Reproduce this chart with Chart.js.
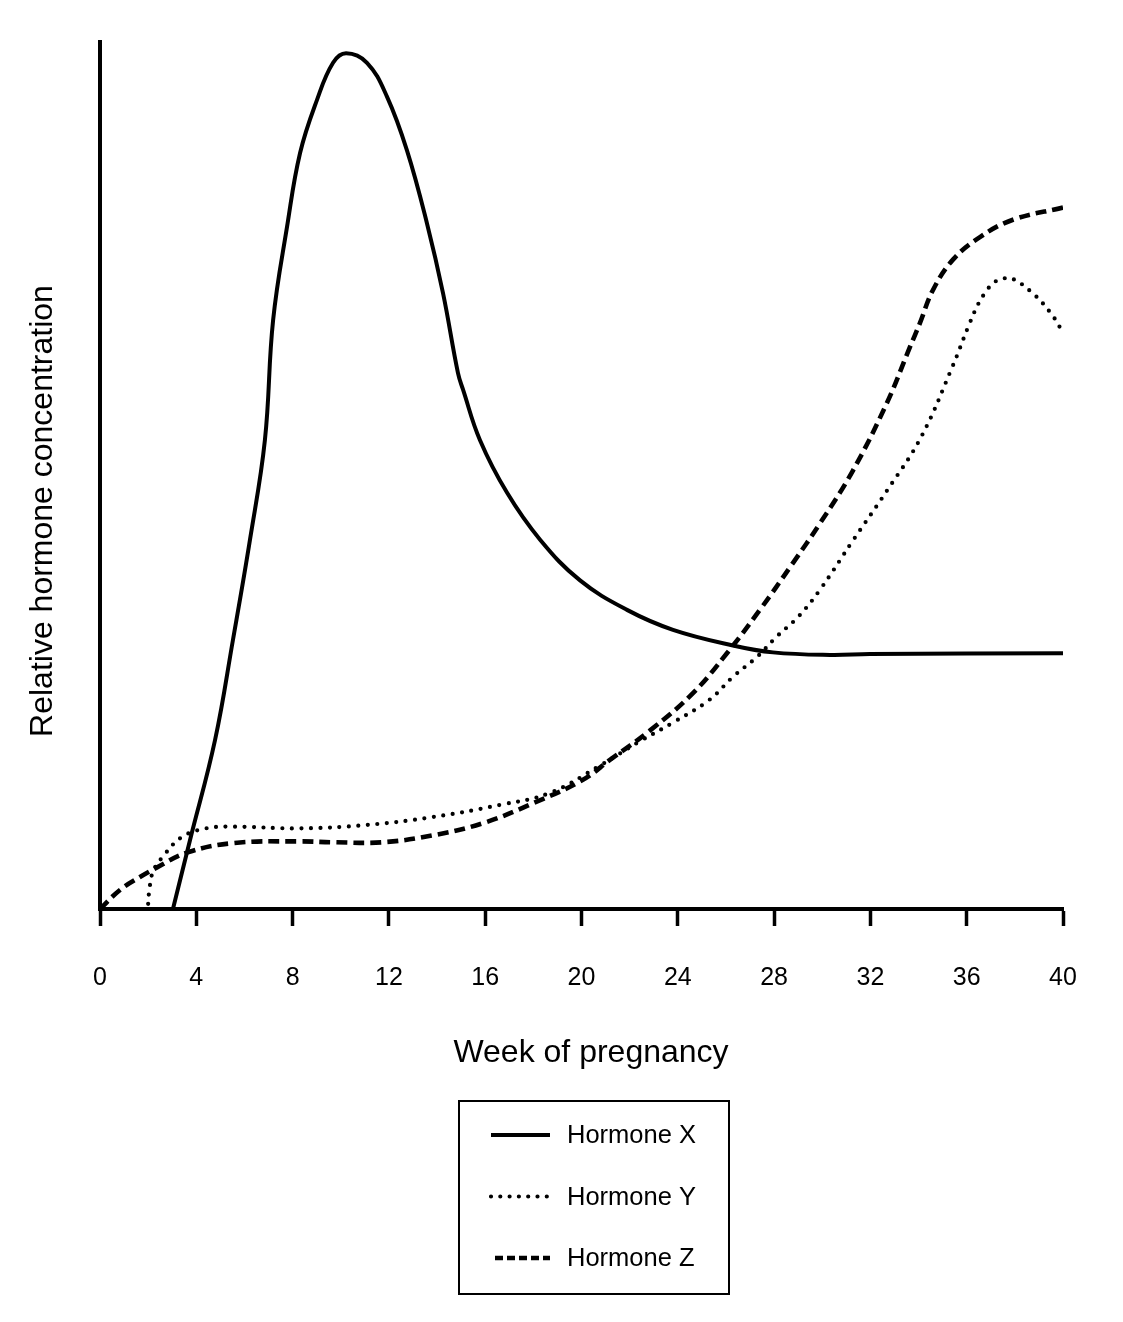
<!DOCTYPE html>
<html>
<head>
<meta charset="utf-8">
<script src="https://cdn.jsdelivr.net/npm/chart.js@4.4.1/dist/chart.umd.min.js"></script>
<style>
  html, body { margin: 0; padding: 0; background: #ffffff; }
  #wrap { width: 1123px; height: 1322px; }
</style>
</head>
<body>
<div id="wrap"><canvas id="c" width="1123" height="1322"></canvas></div>
<script>
// ---- data ----
const seriesNames = ['Hormone X', 'Hormone Y', 'Hormone Z'];

const weeksX  = [3.03, 3.74, 4.78, 5.52, 6.23, 6.85, 7.19, 7.77, 8.31, 9.01, 9.68, 10.22, 11.09, 11.92, 12.75, 13.58, 14.25, 14.87, 15.08, 15.78, 16.91, 18.28, 19.94, 21.89, 23.80, 26.29, 27.95, 30.32, 31.98, 40];
const valuesX = [0, 7.96, 19.5, 31.0, 42.6, 54.1, 67.9, 78.7, 87.2, 93.3, 97.6, 98.7, 97.6, 93.7, 87.5, 79.1, 71.0, 61.8, 59.9, 54.1, 48.0, 42.6, 37.9, 34.5, 32.2, 30.4, 29.6, 29.3, 29.4, 29.5];

const weeksY  = [2.0, 2.05, 2.2, 2.6, 3.4, 4.4, 5.5, 8.3, 11.1, 13.8, 16.6, 18.7, 20.8, 22.4, 23.8, 25.3, 26.3, 27.3, 28.1, 29.0, 29.9, 31.3, 32.7, 34.1, 35.4, 36.1, 36.5, 36.8, 37.1, 37.5, 37.9, 38.75, 39.5, 40];
const valuesY = [0.6, 2.2, 4.3, 6.0, 8.3, 9.3, 9.5, 9.3, 9.7, 10.6, 12.0, 13.4, 16.6, 19.3, 21.5, 24.1, 26.8, 29.1, 31.4, 33.7, 36.8, 42.6, 48.3, 54.4, 62.5, 67.4, 69.9, 71.2, 72.2, 72.7, 72.7, 71.0, 68.7, 66.5];

const weeksZ  = [0, 0.83, 1.66, 2.37, 3.61, 5.52, 8.31, 9.68, 11.75, 13.83, 15.91, 17.99, 20.06, 21.18, 22.85, 24.63, 26.04, 27.41, 28.78, 29.91, 31.28, 32.69, 33.64, 34.06, 34.60, 35.43, 36.55, 37.92, 40];
const valuesZ = [0, 2.2, 3.7, 4.8, 6.5, 7.6, 7.8, 7.7, 7.7, 8.5, 9.9, 12.2, 14.9, 17.2, 20.6, 24.9, 29.5, 34.5, 39.9, 44.5, 50.6, 58.4, 64.8, 67.6, 71.4, 74.9, 77.5, 79.5, 80.9];

const xTickValues = [0, 4, 8, 12, 16, 20, 24, 28, 32, 36, 40];
const xTitle = 'Week of pregnancy';
const yTitle = 'Relative hormone concentration';

// ---- build ----
const FONT = '"Liberation Sans", Arial, Helvetica, sans-serif';
const pts = (xs, ys) => xs.map((x, i) => ({ x: x, y: ys[i] }));

const datasets = [
  { label: seriesNames[0], data: pts(weeksX, valuesX), borderWidth: 4, borderDash: [], borderCapStyle: 'butt', legendDash: [] },
  { label: seriesNames[1], data: pts(weeksY, valuesY), borderWidth: 4.2, borderDash: [0, 9.5], borderCapStyle: 'round', legendDash: [0, 9.3] },
  { label: seriesNames[2], data: pts(weeksZ, valuesZ), borderWidth: 4.6, borderDash: [11, 6], borderCapStyle: 'butt', legendDash: [8, 4] }
].map(d => Object.assign(d, {
  borderColor: '#000', backgroundColor: '#000', fill: false,
  pointRadius: 0, pointHoverRadius: 0, cubicInterpolationMode: 'default', tension: 0.4, borderJoinStyle: 'round'
}));

const whiteBg = {
  id: 'whiteBg',
  beforeDraw(chart) {
    const c = chart.ctx; c.save(); c.fillStyle = '#fff';
    c.fillRect(0, 0, chart.width, chart.height); c.restore();
  }
};

// axis titles (placed like the reference, which is not centred on the axes)
const axisTitles = {
  id: 'axisTitles',
  afterDraw(chart) {
    const c = chart.ctx;
    c.save();
    c.fillStyle = '#000';
    c.font = '32px ' + FONT;
    c.textAlign = 'center';
    c.textBaseline = 'middle';
    c.fillText(xTitle, 591, 1053);
    c.translate(43, 511);
    c.rotate(-Math.PI / 2);
    c.fillText(yTitle, 0, 0);
    c.restore();
  }
};

const boxLegend = {
  id: 'boxLegend',
  afterDraw(chart) {
    const c = chart.ctx;
    c.save();
    c.strokeStyle = '#000';
    c.lineWidth = 2;
    c.setLineDash([]);
    c.strokeRect(459, 1101, 270, 193);
    chart.data.datasets.forEach((ds, i) => {
      const y = 1135 + i * 61.5;
      c.beginPath();
      c.setLineDash(ds.legendDash);
      c.lineCap = ds.borderCapStyle;
      c.lineWidth = ds.borderWidth;
      c.moveTo(i === 2 ? 495 : 491, y);
      c.lineTo(550, y);
      c.stroke();
      c.setLineDash([]);
      c.fillStyle = '#000';
      c.font = '25.5px ' + FONT;
      c.textAlign = 'left';
      c.textBaseline = 'middle';
      c.fillText(ds.label, 567, y + 1);
    });
    c.restore();
  }
};

new Chart(document.getElementById('c'), {
  type: 'line',
  data: { datasets: datasets },
  options: {
    responsive: false,
    animation: false,
    devicePixelRatio: 1,
    layout: { padding: { left: 100, right: 60, top: 42, bottom: 292 } },
    plugins: { legend: { display: false }, tooltip: { enabled: false } },
    scales: {
      x: {
        type: 'linear',
        min: 0, max: 40,
        afterBuildTicks: (s) => { s.ticks = xTickValues.map(v => ({ value: v })); },
        border: { display: true, color: '#000', width: 4, z: 1 },
        grid: { display: true, drawOnChartArea: false, drawTicks: true, tickLength: 17, tickWidth: 3.5, tickColor: '#000' },
        ticks: { color: '#000', font: { family: FONT, size: 25 }, padding: 37, maxRotation: 0, autoSkip: false },
        title: { display: false }
      },
      y: {
        type: 'linear',
        min: 0, max: 100,
        border: { display: true, color: '#000', width: 4, z: 1 },
        grid: { display: false, drawTicks: false },
        ticks: { display: false },
        title: { display: false }
      }
    }
  },
  plugins: [whiteBg, axisTitles, boxLegend]
});
</script>
</body>
</html>
